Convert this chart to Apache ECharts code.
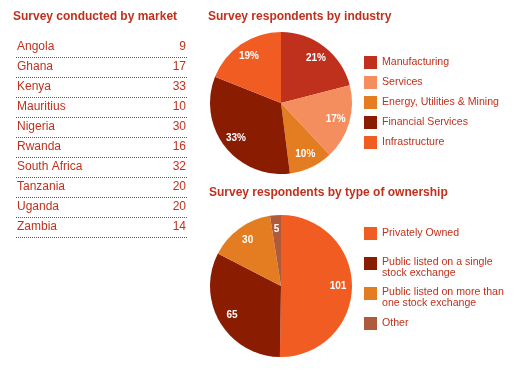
<!DOCTYPE html>
<html><head><meta charset="utf-8">
<script src="https://cdn.jsdelivr.net/npm/echarts@6/dist/echarts.min.js"></script>
<style>html,body{margin:0;padding:0;background:#fff}#c{width:520px;height:370px}</style>
</head><body><div id="c"></div>
<script>
const markets = ['Angola','Ghana','Kenya','Mauritius','Nigeria','Rwanda','South Africa','Tanzania','Uganda','Zambia'];
const marketCounts = [9,17,33,10,30,16,32,20,20,14];
const industries = ['Manufacturing','Services','Energy, Utilities & Mining','Financial Services','Infrastructure'];
const industryShares = [21,17,10,33,19];
const industryColors = ['#c0311d','#f58e5e','#e47d22','#8a1c02','#f15c22'];
const ownershipTypes = ['Privately Owned','Public listed on a single\nstock exchange','Public listed on more than\none stock exchange','Other'];
const ownershipCounts = [101,65,30,5];
const ownershipColors = ['#f15c22','#8a1c02','#e47d22','#b05a3c'];

const FONT = 'Arial, "Liberation Sans", sans-serif';
const RED = '#c0311d';
const chart = echarts.init(document.getElementById('c'), null, {renderer:'canvas'});

function pieBase(center, names, values, colors, fmt) {
  const data = names.map((n,i)=>({name:n, value:values[i], itemStyle:{color:colors[i]}}));
  return [
    {type:'pie', center:center, radius:[0,71], startAngle:90, clockwise:true, animation:false,
     label:{show:false}, labelLine:{show:false}, itemStyle:{borderWidth:0}, data:data, silent:true},
    {type:'pie', center:center, radius:[37,71], startAngle:90, clockwise:true, animation:false,
     silent:true, legendHoverLink:false,
     itemStyle:{color:'rgba(0,0,0,0)', borderWidth:0},
     label:{show:true, position:'inside', color:'#fff', fontSize:10, fontWeight:'bold', fontFamily:FONT, formatter:fmt},
     labelLine:{show:false},
     data:names.map((n,i)=>({name:n, value:values[i]}))}
  ];
}

const topSeries = pieBase([281,103], industries, industryShares, industryColors, '{c}%');
const botSeries = pieBase([281,286], ownershipTypes, ownershipCounts, ownershipColors, '{c}');

const legendCommon = {orient:'vertical', icon:'rect', itemWidth:13, itemHeight:13, padding:0, selectedMode:false,
  itemStyle:{borderWidth:0},
  textStyle:{fontSize:10.6, color:RED, fontFamily:FONT, lineHeight:11}};
const tallIcon = 'path://M0,0L13,0L13,13L0,13Z M0,22L0.01,22L0,22Z';

const option = {
  animation:false,
  textStyle:{fontFamily:FONT},
  title:[
    {text:'Survey conducted by market', left:13, top:11, padding:0, textStyle:{fontSize:12, fontWeight:'bold', color:RED, fontFamily:FONT}},
    {text:'Survey respondents by industry', left:208, top:11, padding:0, textStyle:{fontSize:12, fontWeight:'bold', color:RED, fontFamily:FONT}},
    {text:'Survey respondents by type of ownership', left:209, top:187, padding:0, textStyle:{fontSize:12, fontWeight:'bold', color:RED, fontFamily:FONT}}
  ],
  legend:[
    Object.assign({}, legendCommon, {left:364, top:56, itemGap:7, data:industries}),
    Object.assign({}, legendCommon, {left:364, top:227, data:[ownershipTypes[0]]}),
    Object.assign({}, legendCommon, {left:364, top:257, itemHeight:22, icon:tallIcon, data:[ownershipTypes[1]]}),
    Object.assign({}, legendCommon, {left:364, top:287, itemHeight:22, icon:tallIcon, data:[ownershipTypes[2]]}),
    Object.assign({}, legendCommon, {left:364, top:317, data:[ownershipTypes[3]]})
  ],
  grid:{left:16, width:171, top:37, height:200},
  xAxis:{type:'value', min:0, max:1, show:false},
  yAxis:{type:'category', data:markets, inverse:true, show:false},
  series:[
    {type:'custom', coordinateSystem:'cartesian2d', animation:false, silent:true,
     data:marketCounts.map((v,i)=>[0,i,v]),
     encode:{x:0, y:1},
     renderItem:function(params, api){
       const idx = api.value(1);
       const l = api.coord([0, idx]);
       const r = api.coord([1, idx]);
       const band = api.size([0,1])[1];
       const yLine = Math.round(l[1] + band/2) + 0.5;
       return {type:'group', children:[
         {type:'text', style:{x:l[0]+1, y:l[1], text:markets[params.dataIndex], fill:RED, font:'12px '+FONT, textAlign:'left', textVerticalAlign:'middle'}},
         {type:'text', style:{x:r[0]-1, y:l[1], text:String(api.value(2)), fill:RED, font:'12px '+FONT, textAlign:'right', textVerticalAlign:'middle'}},
         {type:'line', shape:{x1:l[0], y1:yLine, x2:r[0], y2:yLine}, style:{stroke:'#d4281c', lineWidth:1, lineDash:[1,1]}}
       ]};
     }}
  ].concat(topSeries, botSeries)
};
chart.setOption(option);
</script></body></html>
